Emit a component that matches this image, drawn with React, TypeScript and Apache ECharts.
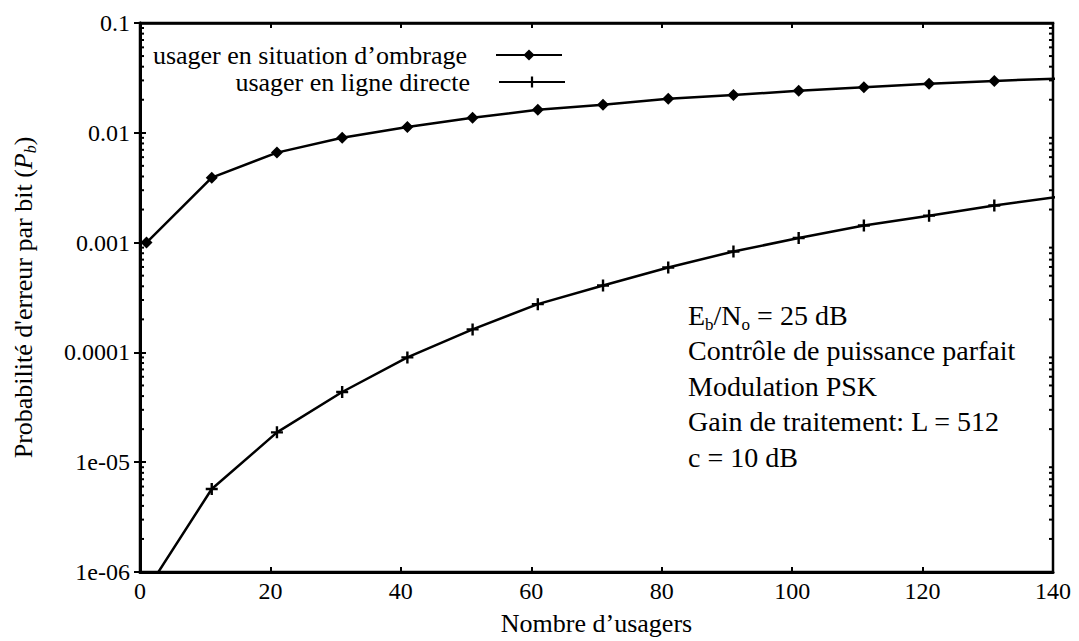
import React, { useEffect, useRef } from "react";
import * as echarts from "echarts";

const xValues = [1, 11, 21, 31, 41, 51, 61, 71, 81, 91, 101, 111, 121, 131, 141];
const shadowValues = [0.001, 0.0039, 0.0066, 0.009, 0.0113, 0.0137, 0.0162, 0.018, 0.0204, 0.0221, 0.0241, 0.026, 0.0279, 0.0297, 0.0312];
const directValues = [6.8e-7, 5.7e-6, 1.87e-5, 4.36e-5, 9.0e-5, 1.62e-4, 2.75e-4, 4.07e-4, 5.93e-4, 8.3e-4, 1.1e-3, 1.43e-3, 1.76e-3, 2.18e-3, 2.62e-3];
const seriesNames = ["usager en situation d’ombrage", "usager en ligne directe"];
const yTickLabels: Record<string, string> = {
  "0.1": "0.1",
  "0.01": "0.01",
  "0.001": "0.001",
  "0.0001": "0.0001",
  "0.00001": "1e-05",
  "0.000001": "1e-06",
};
const minorMultipliers = [2, 3, 4, 5, 6, 7, 8, 9];
const decades = [1e-6, 1e-5, 1e-4, 1e-3, 1e-2];

const FONT = "'Liberation Serif', 'Times New Roman', serif";
const PLUS = "path://M4,0H6V4H10V6H6V10H4V6H0V4H4Z";
const TXT = 26;
const NOTE = 28;
const TICK = 24;

function fmtY(v: number): string {
  const e = Math.round(Math.log10(v));
  const key = Math.pow(10, e).toFixed(Math.max(0, -e));
  return yTickLabels[key] ?? String(v);
}

export default function App() {
  const ref = useRef<HTMLDivElement>(null);
  useEffect(() => {
    if (!ref.current) return;
    const chart = echarts.init(ref.current, null, { renderer: "svg" });
    const minorData: number[][] = [];
    decades.forEach((d) => minorMultipliers.forEach((m) => minorData.push([0, d * m])));
    const sub = { fontSize: 16, fontFamily: FONT, color: "#000", lineHeight: 14, verticalAlign: "bottom" as const };
    const legendText = { fontFamily: FONT, fontSize: TXT, color: "#000", padding: [0, 24, 0, 0] };
    chart.setOption({
      animation: false,
      backgroundColor: "#fff",
      textStyle: { fontFamily: FONT, color: "#000" },
      grid: { left: 129, top: 23, width: 924, height: 550, show: true, borderColor: "#000", borderWidth: 2.5, backgroundColor: "transparent" },
      legend: [
        {
          data: [seriesNames[0]],
          right: 511,
          top: 37,
          align: "right",
          itemWidth: 66,
          itemHeight: 14,
          textStyle: legendText,
        },
        {
          data: [seriesNames[1]],
          right: 508,
          top: 64,
          align: "right",
          itemWidth: 66,
          itemHeight: 14,
          textStyle: legendText,
        },
      ],
      xAxis: [
        {
          type: "value",
          min: 0,
          max: 140,
          interval: 20,
          name: "Nombre d’usagers",
          nameLocation: "middle",
          nameGap: 38,
          nameTextStyle: { fontFamily: FONT, fontSize: TXT, color: "#000" },
          axisLine: { show: true, lineStyle: { color: "#000", width: 3 } },
          axisTick: { show: true, inside: true, length: 5, lineStyle: { color: "#000", width: 2 } },
          axisLabel: { fontFamily: FONT, fontSize: TICK, color: "#000", margin: 7 },
          splitLine: { show: false },
        },
        {
          type: "value",
          position: "top",
          min: 0,
          max: 140,
          interval: 20,
          axisLine: { show: true, lineStyle: { color: "#000", width: 2.5 } },
          axisTick: { show: true, inside: true, length: 5, lineStyle: { color: "#000", width: 2 } },
          axisLabel: { show: false },
          splitLine: { show: false },
        },
      ],
      yAxis: [
        {
          type: "log",
          logBase: 10,
          min: 1e-6,
          max: 0.1,
          name: "Probabilité d'erreur par bit ({i|P}{is|b})",
          nameLocation: "middle",
          nameRotate: 90,
          nameGap: 102,
          nameTextStyle: {
            fontFamily: FONT,
            fontSize: TXT,
            color: "#000",
            lineHeight: 30,
            rich: {
              i: { fontFamily: FONT, fontSize: TXT, fontStyle: "italic", color: "#000", lineHeight: 30 },
              is: { ...sub, fontStyle: "italic" },
            },
          },
          axisLine: { show: true, lineStyle: { color: "#000", width: 3 } },
          axisTick: { show: true, inside: true, length: 6, lineStyle: { color: "#000", width: 2 } },
          axisLabel: { fontFamily: FONT, fontSize: TICK, color: "#000", margin: 10, formatter: (v: number) => fmtY(v) },
          splitLine: { show: false },
          minorTick: { show: false },
        },
        {
          type: "log",
          logBase: 10,
          min: 1e-6,
          max: 0.1,
          position: "right",
          axisLine: { show: true, lineStyle: { color: "#000", width: 2.5 } },
          axisTick: { show: true, inside: true, length: 6, lineStyle: { color: "#000", width: 2 } },
          axisLabel: { show: false },
          splitLine: { show: false },
        },
      ],
      graphic: [
        {
          type: "text",
          left: 688,
          top: 301,
          style: {
            text:
              "{n|E}{s|b}{n|/N}{s|o}{n| = 25 dB}\n{n|Contrôle de puissance parfait}\n{n|Modulation PSK}\n{n|Gain de traitement: L = 512}\n{n|c = 10 dB}",
            fontFamily: FONT,
            fontSize: NOTE,
            fill: "#000",
            rich: {
              n: { fontFamily: FONT, fontSize: NOTE, color: "#000", lineHeight: 35.5 },
              s: { fontFamily: FONT, fontSize: 17, color: "#000", lineHeight: 18, verticalAlign: "bottom" },
            },
          },
        },
      ],
      series: [
        {
          name: seriesNames[0],
          type: "line",
          data: xValues.map((x, i) => [x, shadowValues[i]]),
          symbol: "diamond",
          symbolSize: 12,
          showAllSymbol: true,
          clip: true,
          itemStyle: { color: "#000" },
          lineStyle: { color: "#000", width: 2.5 },
        },
        {
          name: seriesNames[1],
          type: "line",
          data: xValues.map((x, i) => [x, directValues[i]]),
          symbol: PLUS,
          symbolSize: 12,
          showAllSymbol: true,
          clip: true,
          itemStyle: { color: "#000" },
          lineStyle: { color: "#000", width: 2.5 },
        },
        {
          type: "custom",
          silent: true,
          data: minorData,
          renderItem: (params: any, api: any) => {
            const v = api.value(1);
            const l = api.coord([0, v]);
            const r = api.coord([140, v]);
            return {
              type: "group",
              children: [
                { type: "line", shape: { x1: l[0], y1: l[1], x2: l[0] + 4, y2: l[1] }, style: { stroke: "#000", lineWidth: 2 } },
                { type: "line", shape: { x1: r[0] - 4, y1: r[1], x2: r[0], y2: r[1] }, style: { stroke: "#000", lineWidth: 2 } },
              ],
            };
          },
        },
      ],
    });
    return () => chart.dispose();
  }, []);
  return <div ref={ref} style={{ position: "fixed", left: 0, top: 0, width: 1079, height: 641 }} />;
}
